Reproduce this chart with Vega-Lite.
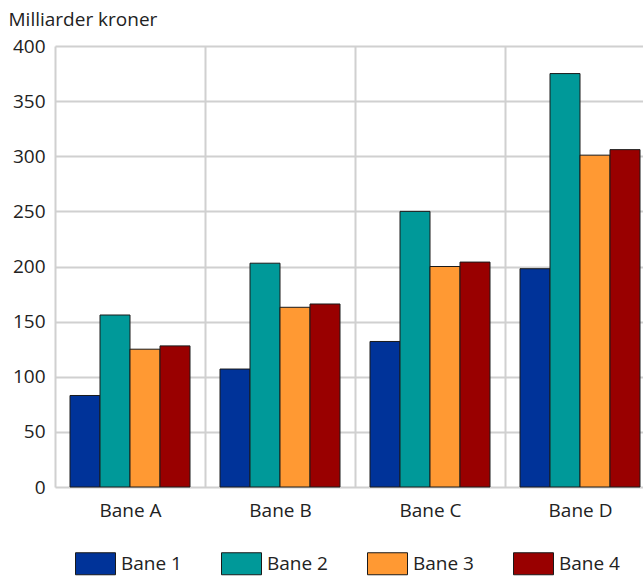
{
  "$schema": "https://vega.github.io/schema/vega-lite/v6.json",
  "autosize": {"type": "none"},
  "padding": {"left": 55, "top": 46, "right": 0, "bottom": 89},
  "width": 588,
  "height": 441,
  "background": "white",
  "config": {
    "view": {"stroke": null},
    "font": "Open Sans",
    "axis": {"labelFont": "Open Sans", "titleFont": "Open Sans"}
  },
  "data": {
    "values": [
      {"bane": "Bane A", "serie": "Bane 1", "verdi": 83},
      {"bane": "Bane A", "serie": "Bane 2", "verdi": 156},
      {"bane": "Bane A", "serie": "Bane 3", "verdi": 125},
      {"bane": "Bane A", "serie": "Bane 4", "verdi": 128},
      {"bane": "Bane B", "serie": "Bane 1", "verdi": 107},
      {"bane": "Bane B", "serie": "Bane 2", "verdi": 203},
      {"bane": "Bane B", "serie": "Bane 3", "verdi": 163},
      {"bane": "Bane B", "serie": "Bane 4", "verdi": 166},
      {"bane": "Bane C", "serie": "Bane 1", "verdi": 132},
      {"bane": "Bane C", "serie": "Bane 2", "verdi": 250},
      {"bane": "Bane C", "serie": "Bane 3", "verdi": 200},
      {"bane": "Bane C", "serie": "Bane 4", "verdi": 204},
      {"bane": "Bane D", "serie": "Bane 1", "verdi": 198},
      {"bane": "Bane D", "serie": "Bane 2", "verdi": 375},
      {"bane": "Bane D", "serie": "Bane 3", "verdi": 301},
      {"bane": "Bane D", "serie": "Bane 4", "verdi": 306}
    ]
  },
  "mark": {"type": "bar", "stroke": "#1a1a1a", "strokeWidth": 1},
  "encoding": {
    "x": {
      "field": "bane",
      "type": "nominal",
      "scale": {"range": [0, 600], "paddingInner": 0, "paddingOuter": 0},
      "axis": {
        "title": null,
        "labelAngle": 0,
        "labelFontSize": 19,
        "labelColor": "#222222",
        "labelPadding": 14,
        "ticks": false,
        "domain": false,
        "grid": true,
        "tickBand": "extent",
        "gridColor": "#d0d0d0",
        "gridWidth": 2,
        "gridOpacity": 1
      }
    },
    "xOffset": {
      "field": "serie",
      "type": "nominal",
      "scale": {"paddingInner": 0, "paddingOuter": 0.5}
    },
    "y": {
      "field": "verdi",
      "type": "quantitative",
      "scale": {"domain": [0, 400], "nice": false},
      "axis": {
        "title": "Milliarder kroner",
        "titleAngle": 0,
        "titleAlign": "left",
        "titleBaseline": "alphabetic",
        "titleX": -47,
        "titleY": -21,
        "titleFontSize": 19,
        "titleFontWeight": "normal",
        "titleColor": "#222222",
        "values": [0, 50, 100, 150, 200, 250, 300, 350, 400],
        "labelFontSize": 19,
        "labelColor": "#222222",
        "labelPadding": 10,
        "ticks": false,
        "domain": false,
        "gridColor": "#d0d0d0",
        "gridWidth": 2,
        "gridOpacity": 1
      }
    },
    "color": {
      "field": "serie",
      "type": "nominal",
      "scale": {
        "domain": ["Bane 1", "Bane 2", "Bane 3", "Bane 4"],
        "range": ["#003399", "#009999", "#ff9933", "#990000"]
      },
      "legend": {
        "title": null,
        "orient": "none",
        "direction": "horizontal",
        "legendX": 20,
        "legendY": 497,
        "padding": 0,
        "symbolType": "M-1,-0.55H1V0.55H-1Z",
        "symbolSize": 1600,
        "symbolStrokeColor": "#1a1a1a",
        "symbolStrokeWidth": 1,
        "symbolOpacity": 1,
        "labelFontSize": 19,
        "labelColor": "#222222",
        "labelFont": "Open Sans",
        "labelOffset": 5,
        "columnPadding": 37
      }
    }
  }
}
